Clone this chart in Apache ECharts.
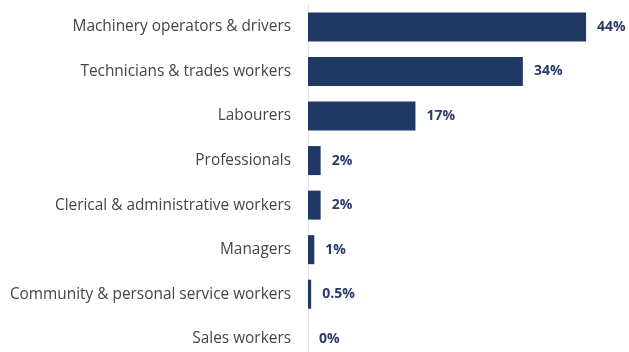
<!DOCTYPE html>
<html>
<head>
<meta charset="utf-8">
<script src="https://cdn.jsdelivr.net/npm/echarts@6/dist/echarts.min.js"></script>
<style>
  html, body { margin: 0; padding: 0; background: #ffffff; overflow: hidden; }
  /* the last row's band runs slightly past the bottom of the window */
  #chart { width: 629px; height: 361px; }
</style>
</head>
<body>
<div id="chart"></div>
<script>
// Occupation categories, top to bottom
const categories = [
  'Machinery operators & drivers',
  'Technicians & trades workers',
  'Labourers',
  'Professionals',
  'Clerical & administrative workers',
  'Managers',
  'Community & personal service workers',
  'Sales workers'
];
// Share of workers (%)
const shares = [44, 34, 17, 2, 2, 1, 0.5, 0];

const chart = echarts.init(document.getElementById('chart'), null, { renderer: 'canvas' });

chart.setOption({
  animation: false,
  backgroundColor: '#ffffff',
  grid: { left: 308, width: 316, top: 4.7, bottom: 0, containLabel: false },
  xAxis: {
    type: 'value',
    min: 0,
    max: 50,
    show: false
  },
  yAxis: {
    type: 'category',
    data: categories,
    inverse: true,
    axisLine: { show: true, lineStyle: { color: '#e4e4e4', width: 1 } },
    axisTick: { show: false },
    axisLabel: {
      color: '#454545',
      fontFamily: 'Open Sans',
      fontSize: 15.4,
      margin: 17
    }
  },
  series: [{
    type: 'bar',
    data: shares,
    barWidth: 29,
    itemStyle: { color: '#1f3864' },
    label: {
      show: true,
      position: 'right',
      distance: 11,
      color: '#2b3a6a',
      fontFamily: 'Open Sans',
      fontWeight: 'bold',
      fontSize: 14,
      formatter: p => p.value + '%'
    }
  }]
});
</script>
</body>
</html>
